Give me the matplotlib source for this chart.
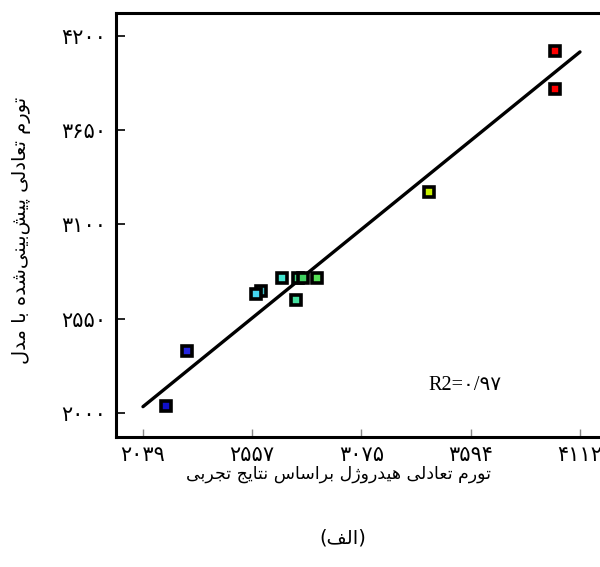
import matplotlib
matplotlib.use("Agg")
import matplotlib.pyplot as plt

# measured vs. predicted equilibrium swelling
measured = [2148, 2246, 2597, 2575, 2697, 2765, 2776, 2797, 2864, 3396, 3993, 3995]
predicted = [2041, 2362, 2710, 2697, 2790, 2660, 2790, 2790, 2790, 3290, 4112, 3889]
point_colors = [
    "#1010c8", "#2525e0", "#40c0c8", "#45d5f0", "#45e5d0", "#45e0a0",
    "#40d880", "#40d060", "#55e055", "#c8f000", "#ff0000", "#ff0000",
]

# regression line end points
fit_x = [2039, 4112]
fit_y = [2037, 4107]

x_ticks = [2039, 2557, 3075, 3594, 4112]
y_ticks = [2000, 2550, 3100, 3650, 4200]

x_label = "تورم تعادلی هیدروژل براساس نتایج تجربی"
y_label = "تورم تعادلی پیش\u200cبینی\u200cشده با مدل"
caption = "(الف)"
r2_text = "R2=۰/۹۷"

FA_DIGITS = str.maketrans("0123456789", "۰۱۲۳۴۵۶۷۸۹")

# isolated, final, initial, medial presentation forms
FORMS = {
    "ا": ("\uFE8D", "\uFE8E", None, None),
    "ب": ("\uFE8F", "\uFE90", "\uFE91", "\uFE92"),
    "پ": ("\uFB56", "\uFB57", "\uFB58", "\uFB59"),
    "ت": ("\uFE95", "\uFE96", "\uFE97", "\uFE98"),
    "ج": ("\uFE9D", "\uFE9E", "\uFE9F", "\uFEA0"),
    "د": ("\uFEA9", "\uFEAA", None, None),
    "ر": ("\uFEAD", "\uFEAE", None, None),
    "ز": ("\uFEAF", "\uFEB0", None, None),
    "ژ": ("\uFB8A", "\uFB8B", None, None),
    "س": ("\uFEB1", "\uFEB2", "\uFEB3", "\uFEB4"),
    "ش": ("\uFEB5", "\uFEB6", "\uFEB7", "\uFEB8"),
    "ع": ("\uFEC9", "\uFECA", "\uFECB", "\uFECC"),
    "ف": ("\uFED1", "\uFED2", "\uFED3", "\uFED4"),
    "ل": ("\uFEDD", "\uFEDE", "\uFEDF", "\uFEE0"),
    "م": ("\uFEE1", "\uFEE2", "\uFEE3", "\uFEE4"),
    "ن": ("\uFEE5", "\uFEE6", "\uFEE7", "\uFEE8"),
    "ه": ("\uFEE9", "\uFEEA", "\uFEEB", "\uFEEC"),
    "و": ("\uFEED", "\uFEEE", None, None),
    "ی": ("\uFBFC", "\uFBFD", "\uFBFE", "\uFBFF"),
}
MIRROR = {"(": ")", ")": "("}


def fa(text):
    """Join Persian letters and lay them out right to left."""
    out = []
    for i, ch in enumerate(text):
        if ch not in FORMS:
            if ch != "\u200c":
                out.append(MIRROR.get(ch, ch))
            continue
        prev = text[i - 1] if i > 0 else ""
        nxt = text[i + 1] if i + 1 < len(text) else ""
        join_prev = prev in FORMS and FORMS[prev][2] is not None
        join_next = nxt in FORMS and FORMS[ch][2] is not None
        isol, fina, init, medi = FORMS[ch]
        if join_prev and join_next:
            out.append(medi)
        elif join_next:
            out.append(init)
        elif join_prev:
            out.append(fina)
        else:
            out.append(isol)
    return "".join(reversed(out))


plt.rcParams["font.family"] = ["DejaVu Sans"]

fig = plt.figure(figsize=(6.0, 5.67), dpi=100)
ax = fig.add_axes([116 / 600, 130 / 567, 484 / 600, 424 / 567])

ax.plot(fit_x, fit_y, color="black", lw=2.4, solid_capstyle="round", zorder=2)
for x, y, c in zip(measured, predicted, point_colors):
    ax.plot(x, y, "s", ms=6.5, mfc=c, mec="black", mew=2.6, zorder=3)

ax.set_xlim(1911, 4207)
ax.set_ylim(1860, 4334)
ax.set_xticks(x_ticks)
ax.set_xticklabels([str(v).translate(FA_DIGITS) for v in x_ticks])
ax.set_yticks(y_ticks)
ax.set_yticklabels([str(v).translate(FA_DIGITS) for v in y_ticks])

ax.spines["right"].set_visible(False)
for side in ("left", "bottom", "top"):
    ax.spines[side].set_linewidth(2.2)
ax.tick_params(axis="y", direction="in", length=6.5, width=1.2, pad=7,
               labelsize=15, color="black")
ax.tick_params(axis="x", direction="in", length=6, width=1.0, pad=6,
               labelsize=15, color="#888888")

fig.text(22 / 600, 1 - 230 / 567, fa(y_label), rotation=90, fontsize=14,
         ha="center", va="center")
fig.text(338 / 600, 1 - 474 / 567, fa(x_label), fontsize=12.5,
         ha="center", va="center")
fig.text(343 / 600, 1 - 538 / 567, fa(caption), fontsize=14,
         ha="center", va="center")
ax.text(3391, 2158, r2_text, fontsize=14.5,
        family=["Liberation Serif", "DejaVu Sans"], ha="left", va="center")

fig.savefig("out.png", dpi=100)
